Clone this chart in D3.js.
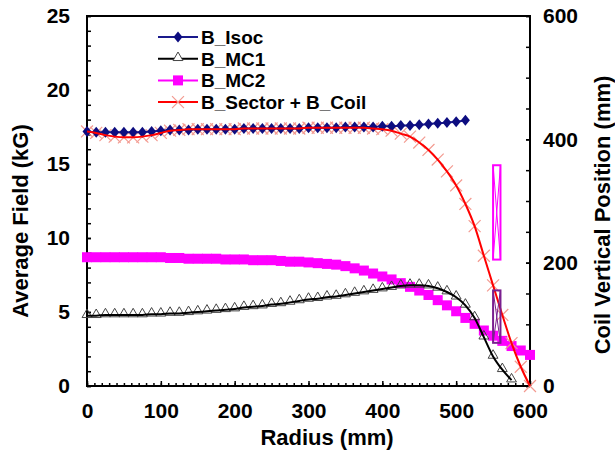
<!DOCTYPE html>
<html>
<head>
<meta charset="utf-8">
<script src="https://cdn.jsdelivr.net/npm/d3@7.9.0/dist/d3.min.js"></script>
<style>
  body { margin: 0; background: #fff; }
  svg { display: block; font-family: "Liberation Sans", Arial, sans-serif; font-weight: bold; }
</style>
</head>
<body>
<div id="chart"></div>
<script>
// radius grid (mm) shared by all series
const radius = [0, 12.5, 25, 37.5, 50, 62.5, 75, 87.5, 100, 112.5, 125, 137.5, 150, 162.5, 175, 187.5,
  200, 212.5, 225, 237.5, 250, 262.5, 275, 287.5, 300, 312.5, 325, 337.5, 350, 362.5, 375, 387.5,
  400, 412.5, 425, 437.5, 450, 462.5, 475, 487.5, 500, 512.5, 525, 537.5, 550, 562.5, 575, 587.5, 600];

// average field (kG)
const bIsoc = [17.2, 17.15, 17.15, 17.15, 17.15, 17.15, 17.15, 17.2, 17.25, 17.3, 17.3, 17.3, 17.35, 17.35,
  17.35, 17.35, 17.35, 17.4, 17.4, 17.4, 17.4, 17.4, 17.4, 17.4, 17.45, 17.45, 17.45, 17.45, 17.5, 17.5,
  17.5, 17.5, 17.55, 17.55, 17.6, 17.6, 17.65, 17.7, 17.75, 17.8, 17.85, 17.95];
const bMC1 = [4.75, 4.75, 4.8, 4.8, 4.8, 4.8, 4.8, 4.85, 4.85, 4.9, 4.9, 4.95, 5.0, 5.05, 5.1, 5.15, 5.2,
  5.3, 5.35, 5.4, 5.5, 5.55, 5.65, 5.75, 5.85, 5.9, 6.0, 6.05, 6.15, 6.25, 6.35, 6.45, 6.55, 6.65, 6.75,
  6.8, 6.8, 6.75, 6.6, 6.35, 6.0, 5.45, 4.6, 3.3, 2.0, 1.1, 0.4];
const bMC2 = [8.7, 8.7, 8.7, 8.7, 8.7, 8.7, 8.7, 8.7, 8.7, 8.65, 8.65, 8.6, 8.6, 8.6, 8.6, 8.55, 8.55,
  8.55, 8.5, 8.5, 8.5, 8.45, 8.4, 8.4, 8.35, 8.3, 8.25, 8.2, 8.1, 7.95, 7.8, 7.6, 7.4, 7.2, 6.95, 6.7,
  6.45, 6.15, 5.8, 5.45, 5.05, 4.6, 4.2, 3.75, 3.4, 3.05, 2.7, 2.4, 2.1];
const bSectorCoil = [17.2, 17.1, 16.95, 16.85, 16.8, 16.8, 16.85, 16.95, 17.1, 17.25, 17.3, 17.35, 17.35,
  17.35, 17.35, 17.35, 17.35, 17.4, 17.4, 17.4, 17.4, 17.4, 17.4, 17.4, 17.45, 17.45, 17.45, 17.45, 17.45,
  17.45, 17.45, 17.4, 17.35, 17.25, 17.05, 16.85, 16.45, 15.95, 15.3, 14.5, 13.55, 12.3, 10.8, 8.8, 6.8,
  4.8, 2.9, 1.3, 0];

// coil cross sections: radial extent (mm) and vertical extent (mm, right axis)
const coilR = [550, 560];
const coilLowZ = [70, 155];
const coilHighZ = [205, 358];

const leftTicks = [0, 5, 10, 15, 20, 25];
const rightTicks = [0, 200, 400, 600];
const bottomTicks = [0, 100, 200, 300, 400, 500, 600];

const W = 615, H = 458;
const svg = d3.select('#chart').append('svg').attr('width', W).attr('height', H);

const x = d3.scaleLinear().domain([0, 600]).range([87, 530]);
const yL = d3.scaleLinear().domain([0, 25]).range([386, 16]);
const yR = d3.scaleLinear().domain([0, 600]).range([386, 16]);

// frame
svg.append('rect')
  .attr('x', 87).attr('y', 16).attr('width', 443).attr('height', 370)
  .attr('fill', 'none').attr('stroke', '#000').attr('stroke-width', 2);

// axes (ticks inward)
function styleAxis(g) {
  g.select('.domain').remove();
  g.selectAll('line').attr('stroke', '#000').attr('stroke-width', 1.5);
  g.selectAll('text').attr('font-size', 21).attr('font-weight', 'bold').attr('fill', '#000')
    .attr('font-family', '"Liberation Sans", Arial, sans-serif');
}

svg.append('g').attr('transform', 'translate(0,386)')
  .call(d3.axisBottom(x).tickValues(d3.range(0, 601, 10)).tickSize(-3).tickFormat(''))
  .call(styleAxis);
svg.append('g').attr('transform', 'translate(0,386)')
  .call(d3.axisBottom(x).tickValues(bottomTicks).tickSize(-5).tickPadding(17).tickFormat(d3.format('d')))
  .call(styleAxis);

svg.append('g').attr('transform', 'translate(87,0)')
  .call(d3.axisLeft(yL).tickValues(d3.range(0, 26, 1)).tickSize(-4).tickFormat(''))
  .call(styleAxis);
svg.append('g').attr('transform', 'translate(87,0)')
  .call(d3.axisLeft(yL).tickValues(leftTicks).tickSize(-4).tickPadding(17))
  .call(styleAxis);

svg.append('g').attr('transform', 'translate(530,0)')
  .call(d3.axisRight(yR).tickValues(d3.range(0, 601, 50)).tickSize(-4).tickFormat(''))
  .call(styleAxis);
svg.append('g').attr('transform', 'translate(530,0)')
  .call(d3.axisRight(yR).tickValues(rightTicks).tickSize(-4).tickPadding(13))
  .call(styleAxis);

// axis titles
svg.append('text')
  .attr('x', 327).attr('y', 445).attr('text-anchor', 'middle')
  .attr('font-size', 22).text('Radius (mm)');
svg.append('text')
  .attr('transform', 'translate(28,221) rotate(-90)').attr('text-anchor', 'middle')
  .attr('font-size', 22).text('Average Field (kG)');
svg.append('text')
  .attr('transform', 'translate(610,215) rotate(-90)').attr('text-anchor', 'middle')
  .attr('font-size', 22).text('Coil Vertical Position (mm)');

// series
const pts = vals => vals.map((v, i) => [radius[i], v]);
const line = d3.line().x(d => x(d[0])).y(d => yL(d[1])).curve(d3.curveMonotoneX);
const diamond = 'M0,-5.5L4.5,0L0,5.5L-4.5,0Z';
const xColor = '#f39a90';

const plot = svg.append('g');

// B_MC2 : magenta squares
plot.append('path').datum(pts(bMC2)).attr('d', line)
  .attr('fill', 'none').attr('stroke', '#ff00ff').attr('stroke-width', 2);
plot.selectAll('.sq').data(pts(bMC2)).join('rect')
  .attr('x', d => x(d[0]) - 5).attr('y', d => yL(d[1]) - 5)
  .attr('width', 10).attr('height', 10).attr('fill', '#ff00ff');

// B_MC1 : black line, hollow triangles
const tri = d3.symbol().type(d3.symbolTriangle).size(42);
plot.selectAll('.tri').data(pts(bMC1)).join('path')
  .attr('d', tri).attr('transform', d => `translate(${x(d[0])},${yL(d[1]) - 1})`)
  .attr('fill', 'none').attr('stroke', '#444').attr('stroke-width', 1);
plot.append('path').datum(pts(bMC1)).attr('d', line)
  .attr('fill', 'none').attr('stroke', '#000').attr('stroke-width', 2);

// B_Sector + B_Coil markers (behind Isoc)
const cross = d3.symbol().type(d3.symbolX).size(95);
plot.selectAll('.x').data(pts(bSectorCoil)).join('path')
  .attr('d', cross).attr('transform', d => `translate(${x(d[0])},${yL(d[1])})`)
  .attr('fill', 'none').attr('stroke', xColor).attr('stroke-width', 1.2);

// B_Isoc : navy diamonds
plot.append('path').datum(pts(bIsoc)).attr('d', line)
  .attr('fill', 'none').attr('stroke', '#1a1a8c').attr('stroke-width', 2);
plot.selectAll('.dia').data(pts(bIsoc)).join('path')
  .attr('d', diamond)
  .attr('transform', d => `translate(${x(d[0])},${yL(d[1])})`)
  .attr('fill', '#0d0d80');

plot.append('path').datum(pts(bSectorCoil)).attr('d', line)
  .attr('fill', 'none').attr('stroke', '#ff0000').attr('stroke-width', 2);

// coils
function coil(z, color) {
  const x0 = x(coilR[0]), x1 = x(coilR[1]), y0 = yR(z[1]), y1 = yR(z[0]);
  svg.append('rect').attr('x', x0).attr('y', y0).attr('width', x1 - x0).attr('height', y1 - y0)
    .attr('fill', 'none').attr('stroke', color).attr('stroke-width', 2);
  svg.append('path').attr('d', `M${x0},${y0}L${x1},${y1}M${x1},${y0}L${x0},${y1}`)
    .attr('fill', 'none').attr('stroke', color).attr('stroke-width', 1);
}
coil(coilHighZ, '#ff00ff');
coil(coilLowZ, '#7a1f8f');

// legend
const legend = [
  { name: 'B_Isoc', color: '#1a1a8c', marker: 'diamond' },
  { name: 'B_MC1', color: '#000', marker: 'triangle' },
  { name: 'B_MC2', color: '#ff00ff', marker: 'square' },
  { name: 'B_Sector + B_Coil', color: '#ff0000', marker: 'x' }
];
const lg = svg.append('g');
legend.forEach((s, i) => {
  const y = 37 + i * 21.7;
  lg.append('line').attr('x1', 158).attr('x2', 198).attr('y1', y).attr('y2', y)
    .attr('stroke', s.color).attr('stroke-width', 2);
  const m = lg.append('g').attr('transform', `translate(178,${y})`);
  if (s.marker === 'diamond') m.append('path').attr('d', diamond).attr('fill', '#0d0d80');
  if (s.marker === 'triangle') m.append('path').attr('d', tri).attr('transform', 'translate(0,-1)')
    .attr('fill', '#fff').attr('stroke', '#444');
  if (s.marker === 'square') m.append('rect').attr('x', -5).attr('y', -5).attr('width', 10).attr('height', 10)
    .attr('fill', '#ff00ff');
  if (s.marker === 'x') m.append('path').attr('d', cross).attr('stroke', xColor).attr('stroke-width', 1.2);
  lg.append('text').attr('x', 201).attr('y', y).attr('dy', '0.36em')
    .attr('font-size', 19).text(s.name);
});
</script>
</body>
</html>
